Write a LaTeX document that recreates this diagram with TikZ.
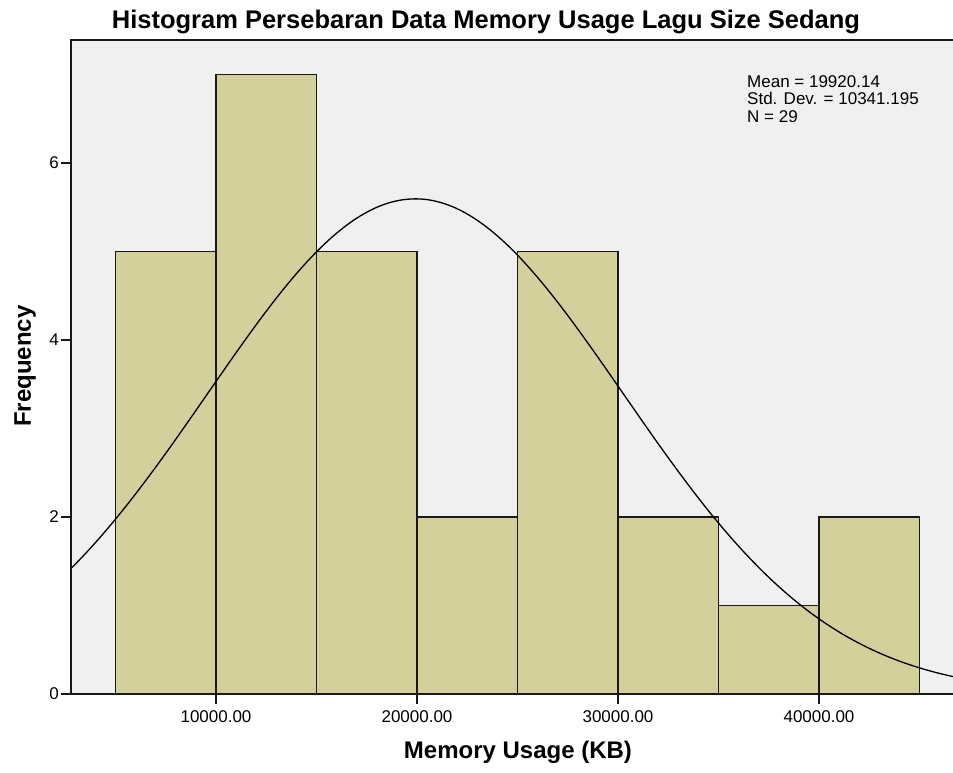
\documentclass[tikz,border=0pt]{standalone}
\usepackage{fontspec}
\setmainfont{Liberation Sans}
\usetikzlibrary{positioning}
\definecolor{barfill}{HTML}{D4D09C}
\definecolor{plotbg}{HTML}{F0F0F0}

\begin{document}
\begin{tikzpicture}
[x=1pt, y=1pt,
bar/.style={draw=black!90, fill=barfill, line width=1.5pt},
axisline/.style={draw=black!90, line width=1.8pt},
ticklbl/.style={font=\fontsize{17}{17}\selectfont, inner sep=0pt},
axislbl/.style={font=\fontsize{24}{24}\selectfont\bfseries, inner sep=0pt}]
\useasboundingbox (0,0) rectangle (953,772);
\fill[plotbg] (71,78) rectangle (953,732);

% histogram, x in 1000 KB, y in counts
\begin{scope}[shift={(15,78)}, x=20.1pt, y=88.5pt]
\foreach \n [count=\i] in {5,7,5,2,5,2,1,2}
  \draw[bar] ({5*\i},0) rectangle ({5*\i+5},\n);
\begin{scope}
\clip (2.786,0) rectangle (46.67,7.39);
\draw[line width=1.3pt, domain=2.786:46.67, samples=120, smooth]
  plot (\x, {5.5938*exp(-0.5*((\x-19.92014)/10.341195)^2)});
\end{scope}
\foreach \v in {0,2,4,6} {
  \draw[axisline] (2.786,\v) -- ++(-10pt,0);
  \node[ticklbl, anchor=east] (ylab\v) at ([xshift=-12pt]2.786,\v) {\v};
}
\foreach \v in {10,20,30,40} {
  \draw[axisline] (\v,0) -- ++(0,-10pt);
  \node[ticklbl, anchor=north] (xlab\v) at ([yshift=-16pt]\v,0) {\v000.00};
}
\end{scope}

\draw[axisline] (953,732) -- (71,732) -- (71,78) -- (953,78);

\node[axislbl, font=\fontsize{25.5}{26}\selectfont\bfseries] (title) at (486,750)
  {Histogram Persebaran Data Memory Usage Lagu Size Sedang};
\node[axislbl] (xname) at (518,20) {Memory Usage (KB)};
\node[axislbl, rotate=90] (yname) at (25,406) {Frequency};
\node[ticklbl, anchor=north west, align=left, font=\fontsize{17}{17.5}\selectfont]
  (stats) at (747,697) {Mean = 19920.14\\Std. Dev. = 10341.195\\N = 29};
\end{tikzpicture}
\end{document}
